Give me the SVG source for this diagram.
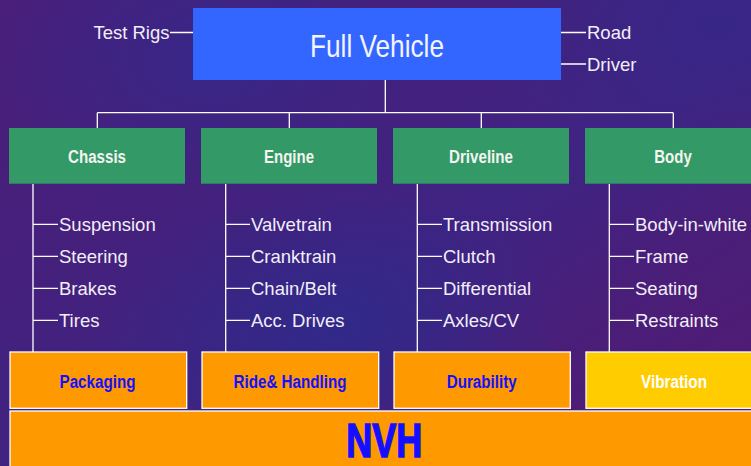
<svg xmlns="http://www.w3.org/2000/svg" width="751" height="466" viewBox="0 0 751 466">
<defs>
<linearGradient id="bg" x1="0" y1="0" x2="1" y2="1">
<stop offset="0" stop-color="#4a1e7a"/>
<stop offset="0.3" stop-color="#45207c"/>
<stop offset="0.55" stop-color="#3f2382"/>
<stop offset="0.75" stop-color="#4a1e78"/>
<stop offset="1" stop-color="#531a72"/>
</linearGradient>
<radialGradient id="blue1" cx="0.28" cy="0.12" r="0.3">
<stop offset="0" stop-color="#33288a" stop-opacity="0.8"/>
<stop offset="1" stop-color="#33288a" stop-opacity="0"/>
</radialGradient>
<radialGradient id="blue2" cx="0.45" cy="0.7" r="0.3">
<stop offset="0" stop-color="#2d2a8a" stop-opacity="0.85"/>
<stop offset="1" stop-color="#2d2a8a" stop-opacity="0"/>
</radialGradient>
<radialGradient id="blue3" cx="0.95" cy="0.05" r="0.3">
<stop offset="0" stop-color="#352788" stop-opacity="0.8"/>
<stop offset="1" stop-color="#352788" stop-opacity="0"/>
</radialGradient>
<style>
.ln{stroke:#ffffff;stroke-width:1.3;fill:none}
.side{font-family:"Liberation Sans",Arial,sans-serif;font-size:18.5px;fill:#f2eef8}
.item{font-family:"Liberation Sans",Arial,sans-serif;font-size:18.5px;fill:#f2eef8}
.grn{fill:#339966}
.gt{font-family:"Liberation Sans Narrow","Arial Narrow","Liberation Sans",sans-serif;font-size:18px;font-weight:bold;fill:#f4f4f0;text-anchor:middle}
.org{fill:#ff9900;stroke:#ffffff;stroke-width:1.3}
.yel{fill:#ffcc00;stroke:#ffffff;stroke-width:1.3}
.ot{font-family:"Liberation Sans Narrow","Arial Narrow","Liberation Sans",sans-serif;font-size:18px;font-weight:bold;fill:#1410ff;text-anchor:middle}
</style>
</defs>
<rect width="751" height="466" fill="url(#bg)"/>
<rect width="751" height="466" fill="url(#blue1)"/>
<rect width="751" height="466" fill="url(#blue2)"/>
<rect width="751" height="466" fill="url(#blue3)"/>

<g id="connectors">
<path class="ln" d="M170 32.5H193M561 32.5H586M561 64H586"/>
<path class="ln" d="M385.3 80V112.7M97.3 112.7H673.3M97.3 112.7V128M289.3 112.7V128M481.3 112.7V128M673.3 112.7V128"/>
<path class="ln" d="M33 184V352M33 224.3H58M33 256.3H58M33 288.3H58M33 320.3H58"/>
<path class="ln" d="M225.7 184V352M225.7 224.3H250M225.7 256.3H250M225.7 288.3H250M225.7 320.3H250"/>
<path class="ln" d="M417.3 184V352M417.3 224.3H442M417.3 256.3H442M417.3 288.3H442M417.3 320.3H442"/>
<path class="ln" d="M609.3 184V352M609.3 224.3H634M609.3 256.3H634M609.3 288.3H634M609.3 320.3H634"/>
</g>

<g id="full-vehicle">
<rect x="193" y="8" width="368" height="72" fill="#3366ff"/>
<text x="377" y="57" text-anchor="middle" font-family="Liberation Sans Narrow,Arial Narrow,Liberation Sans,sans-serif" font-size="32" fill="#f4f4ff" textLength="134" lengthAdjust="spacingAndGlyphs">Full Vehicle</text>
</g>
<g id="test-rigs"><text class="side" x="169.5" y="39" text-anchor="end">Test Rigs</text></g>
<g id="road"><text class="side" x="587" y="39">Road</text></g>
<g id="driver"><text class="side" x="587" y="71">Driver</text></g>

<g id="chassis">
<rect class="grn" x="9" y="128" width="176" height="55.7"/>
<text class="gt" x="97" y="163" textLength="58" lengthAdjust="spacingAndGlyphs">Chassis</text>
</g>
<g id="engine">
<rect class="grn" x="201" y="128" width="176" height="55.7"/>
<text class="gt" x="289" y="163" textLength="50" lengthAdjust="spacingAndGlyphs">Engine</text>
</g>
<g id="driveline">
<rect class="grn" x="393" y="128" width="176" height="55.7"/>
<text class="gt" x="481" y="163" textLength="64" lengthAdjust="spacingAndGlyphs">Driveline</text>
</g>
<g id="body">
<rect class="grn" x="585" y="128" width="176" height="55.7"/>
<text class="gt" x="673" y="163" textLength="37.5" lengthAdjust="spacingAndGlyphs">Body</text>
</g>

<g id="chassis-items">
<text class="item" x="59" y="231">Suspension</text>
<text class="item" x="59" y="263">Steering</text>
<text class="item" x="59" y="295">Brakes</text>
<text class="item" x="59" y="327">Tires</text>
</g>
<g id="engine-items">
<text class="item" x="251" y="231">Valvetrain</text>
<text class="item" x="251" y="263">Cranktrain</text>
<text class="item" x="251" y="295">Chain/Belt</text>
<text class="item" x="251" y="327">Acc. Drives</text>
</g>
<g id="driveline-items">
<text class="item" x="443" y="231">Transmission</text>
<text class="item" x="443" y="263">Clutch</text>
<text class="item" x="443" y="295">Differential</text>
<text class="item" x="443" y="327">Axles/CV</text>
</g>
<g id="body-items">
<text class="item" x="635" y="231">Body-in-white</text>
<text class="item" x="635" y="263">Frame</text>
<text class="item" x="635" y="295">Seating</text>
<text class="item" x="635" y="327">Restraints</text>
</g>

<g id="packaging">
<rect class="org" x="10" y="352" width="176.7" height="56.3"/>
<text class="ot" x="97.5" y="388" textLength="76" lengthAdjust="spacingAndGlyphs">Packaging</text>
</g>
<g id="ride-handling">
<rect class="org" x="202" y="352" width="176.7" height="56.3"/>
<text class="ot" x="290" y="388" textLength="113" lengthAdjust="spacingAndGlyphs">Ride&amp; Handling</text>
</g>
<g id="durability">
<rect class="org" x="394" y="352" width="176.3" height="56.3"/>
<text class="ot" x="481.7" y="388" textLength="70" lengthAdjust="spacingAndGlyphs">Durability</text>
</g>
<g id="vibration">
<rect class="yel" x="586" y="352" width="176" height="56.3"/>
<text class="ot" x="674" y="388" textLength="66" lengthAdjust="spacingAndGlyphs" style="fill:#ffffff">Vibration</text>
</g>
<g id="nvh">
<rect class="org" x="10" y="411" width="752" height="60"/>
<text class="ot" x="384.3" y="457" style="font-size:48px;stroke:#1410ff;stroke-width:1.6" textLength="76" lengthAdjust="spacingAndGlyphs">NVH</text>
</g>
</svg>
